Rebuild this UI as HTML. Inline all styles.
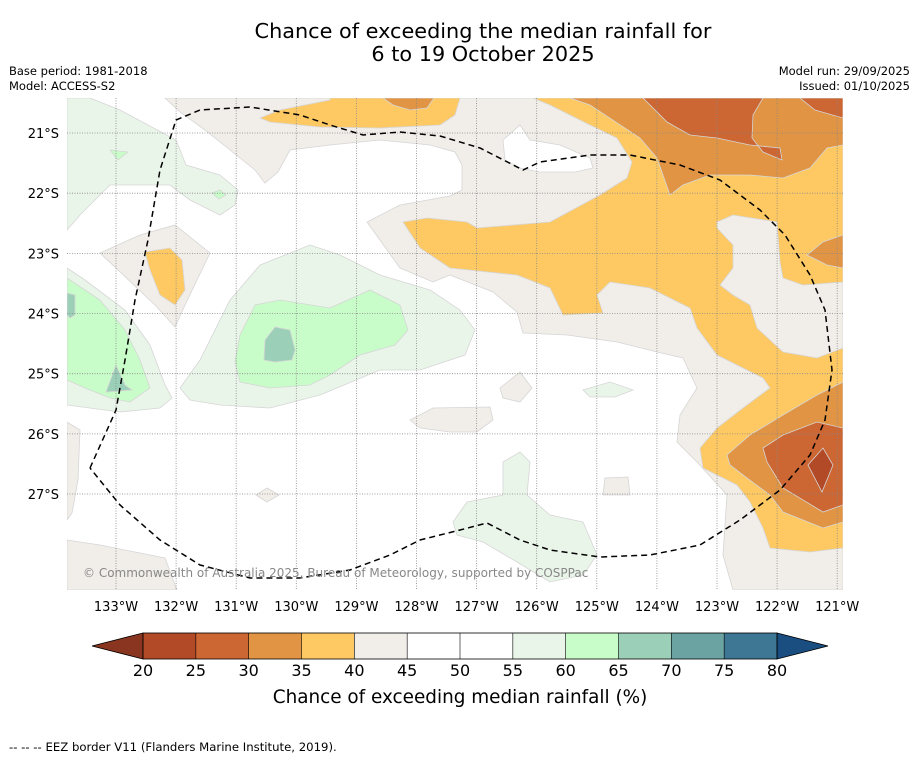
<!DOCTYPE html>
<html><head><meta charset="utf-8"><style>
body{margin:0;background:#fff;font-family:"DejaVu Sans","Liberation Sans",sans-serif;}
svg{display:block}
</style></head><body>
<svg id="c" width="919" height="758" viewBox="0 0 919 758" xmlns="http://www.w3.org/2000/svg" font-family="DejaVu Sans, Liberation Sans, sans-serif">
<text x="483" y="38" font-size="20.8" text-anchor="middle">Chance of exceeding the median rainfall for</text>
<text x="483" y="61" font-size="20.8" text-anchor="middle">6 to 19 October 2025</text>
<text x="9" y="75" font-size="11.5">Base period: 1981-2018</text>
<text x="9" y="90" font-size="11.5">Model: ACCESS-S2</text>
<text x="910" y="75" font-size="11.5" text-anchor="end">Model run: 29/09/2025</text>
<text x="910" y="90" font-size="11.5" text-anchor="end">Issued: 01/10/2025</text>
<defs><clipPath id="mc"><rect x="67" y="98" width="776" height="492"/></clipPath></defs>
<g clip-path="url(#mc)" stroke="#d6d6d6" stroke-width="0.8">
<rect x="67" y="98" width="776" height="492" fill="#fff" stroke="none"/>
<polygon fill="#f1ede8" points="165,98 843,98 843,590 733,590 723,555 727,495 697,462 677,442 680,415 697,388 683,358 657,352 617,342 567,335 523,333 517,312 493,292 450,275 433,282 400,268 367,222 400,205 450,196 462,190 462,165 455,152 430,145 380,140 330,145 290,150 278,172 265,183 255,170 230,150 205,130 180,112"/>
<polygon fill="#fff" points="503,140 520,125 530,140 560,145 590,158 593,168 575,172 540,172 520,168 505,160"/>
<polygon fill="#f1ede8" points="100,253 140,235 175,225 210,253 185,305 175,327 155,305"/>
<polygon fill="#f1ede8" points="500,388 520,372 532,388 520,402 503,398"/>
<polygon fill="#f1ede8" points="410,420 433,408 490,407 493,420 477,432 450,432 420,428"/>
<polygon fill="#f1ede8" points="605,478 628,477 630,495 603,495"/>
<polygon fill="#f1ede8" points="256,495 267,488 279,495 267,502"/>
<polygon fill="#f1ede8" points="67,422 80,430 78,480 72,513 67,520"/>
<polygon fill="#f1ede8" points="67,540 100,545 165,558 177,590 67,590"/>
<polygon fill="#fec963" points="533,98 843,98 843,548 810,552 770,548 763,528 750,502 737,485 703,468 700,448 717,428 743,408 770,388 763,378 743,368 717,355 697,328 690,308 650,288 610,282 597,295 603,313 563,315 550,288 517,275 450,268 420,248 403,222 427,218 467,222 477,228 550,222 600,195 627,178 632,162 617,138 590,125 550,105"/>
<polygon fill="#f1ede8" points="717,222 733,215 777,222 780,262 783,278 803,285 843,282 843,348 817,358 783,352 757,328 750,305 733,295 720,285 733,268 733,245 717,228"/>
<polygon fill="#fec963" points="260,118 280,110 330,100 330,98 460,98 455,115 440,125 380,128 320,127 270,122"/>
<polygon fill="#fec963" points="145,252 170,248 182,260 185,290 175,305 160,295 150,270"/>
<polygon fill="#e09444" points="570,98 843,98 843,145 827,148 810,168 783,178 750,175 710,175 683,185 670,195 657,158 640,138 590,105"/>
<polygon fill="#e09444" points="807,255 823,242 843,235 843,268 827,265"/>
<polygon fill="#e09444" points="727,455 750,435 783,415 817,395 843,382 843,522 823,528 783,512 770,495 747,478 730,465"/>
<polygon fill="#e09444" points="383,98 434,98 427,108 410,110 393,105"/>
<polygon fill="#cc6633" points="643,98 763,98 753,115 752,138 763,152 782,160 780,148 750,145 717,138 690,135 667,122"/>
<polygon fill="#cc6633" points="800,98 843,98 843,118 815,110"/>
<polygon fill="#cc6633" points="763,448 783,435 817,422 843,428 843,505 823,512 783,488 767,462"/>
<polygon fill="#b24a28" points="808,465 823,448 833,465 822,492"/>
<polygon fill="#eaf5ea" points="67,98 90,98 120,110 176,140 186,165 220,175 238,190 235,205 220,215 190,200 170,185 110,185 80,215 67,230"/>
<polygon fill="#eaf5ea" points="67,268 85,280 125,310 150,345 165,385 172,398 160,408 120,412 67,405"/>
<polygon fill="#eaf5ea" points="180,388 200,360 230,300 260,265 310,245 340,255 380,275 430,290 460,310 475,330 465,355 420,370 380,370 320,395 270,408 220,405 190,400"/>
<polygon fill="#eaf5ea" points="453,522 467,502 503,495 503,462 520,452 530,462 527,495 550,515 583,522 597,555 583,575 550,582 517,562 483,542 457,535"/>
<polygon fill="#eaf5ea" points="583,390 610,382 633,390 615,397 590,397"/>
<polygon fill="#c8fcc8" points="67,278 100,300 125,330 140,360 150,388 130,402 110,398 85,388 67,380"/>
<polygon fill="#c8fcc8" points="235,362 240,335 255,305 280,300 330,308 370,290 400,305 408,330 395,345 360,355 330,375 310,385 270,388 240,382"/>
<polygon fill="#c8fcc8" points="110,150 128,152 118,160"/>
<polygon fill="#c8fcc8" points="212,193 220,190 226,195 219,199"/>
<polygon fill="#9ccfb8" points="67,293 75,295 75,315 70,318 67,315"/>
<polygon fill="#9ccfb8" points="116,365 125,385 132,390 106,392"/>
<polygon fill="#9ccfb8" points="264,360 265,340 275,327 290,330 295,350 292,360 275,362"/>
<g id="grid" stroke="#888" stroke-width="0.8" stroke-dasharray="1,1.5" fill="none"></g>
<polyline fill="none" stroke="#000" stroke-width="1.5" stroke-dasharray="6,4" points="90,468 116,410 125,360 135,300 148,240 160,170 176,120 200,110 250,107 300,115 330,125 363,135 400,132 440,136 480,148 523,170 540,162 590,155 630,155 680,165 720,180 760,210 785,235 810,275 825,310 832,370 825,420 810,455 780,490 740,520 700,545 650,555 600,557 550,550 520,540 487,523 460,530 420,540 390,555 350,570 300,578 250,578 200,565 160,540 120,505 90,468"/>
<text x="83" y="577" font-size="12" fill="#888" stroke="none">© Commonwealth of Australia 2025, Bureau of Meteorology, supported by COSPPac</text>
</g>
<g id="ticks"></g>
<g id="cbar"></g>
<text x="460" y="703" font-size="18.4" text-anchor="middle">Chance of exceeding median rainfall (%)</text>
<text x="9" y="751" font-size="11.7">--  --  -- EEZ border V11 (Flanders Marine Institute, 2019).</text>
</svg>
<script>
const lonLabels=["133°W","132°W","131°W","130°W","129°W","128°W","127°W","126°W","125°W","124°W","123°W","122°W","121°W"];
const latLabels=["21°S","22°S","23°S","24°S","25°S","26°S","27°S"];
const cbarLevels=[20,25,30,35,40,45,50,55,60,65,70,75,80];
const cbarColors=["#b24a28","#cc6633","#e09444","#fec963","#f1ede8","#ffffff","#ffffff","#eaf5ea","#c8fcc8","#9ccfb8","#6ba3a3","#3d7794"];
const NS="http://www.w3.org/2000/svg";
const xLon=i=>116+i*60.1, yLat=i=>133+i*60.17;
const xC=v=>143+(v-20)*(634/60);
function mk(t,a,p){const e=document.createElementNS(NS,t);for(const k in a)e.setAttribute(k,a[k]);p.appendChild(e);return e;}
const grid=document.getElementById('grid'),ticks=document.getElementById('ticks'),cb=document.getElementById('cbar');
lonLabels.forEach((l,i)=>{const x=xLon(i);
 const g=mk('line',{x1:x,y1:98,x2:x,y2:590},grid);
 
 
 const t=mk('text',{x:x,y:611,'font-size':13,'text-anchor':'middle'},ticks);t.textContent=l;
 
 });
latLabels.forEach((l,i)=>{const y=yLat(i);
 const g=mk('line',{x1:67,y1:y,x2:843,y2:y},grid);
 
 
 const t=mk('text',{x:59,y:y+5,'font-size':13,'text-anchor':'end'},ticks);t.textContent=l;
 
 });
const y0=633,y1=659,ym=646;
const lo=mk('polygon',{points:`92,${ym} ${xC(20)},${y0} ${xC(20)},${y1}`,fill:'#8a3520',stroke:'#000','stroke-width':0.8},cb);


const hi=mk('polygon',{points:`828,${ym} ${xC(80)},${y0} ${xC(80)},${y1}`,fill:'#1a4d80',stroke:'#000','stroke-width':0.8},cb);


cbarColors.forEach((c,i)=>{const a=xC(cbarLevels[i]),b=xC(cbarLevels[i+1]);
 const r=mk('rect',{x:a,y:y0,width:b-a,height:y1-y0,fill:c},cb);
 
 });
const fr=mk('rect',{x:xC(20),y:y0,width:xC(80)-xC(20),height:y1-y0,fill:'none',stroke:'#000','stroke-width':0.8},cb);


cbarLevels.forEach(v=>{const x=xC(v);
 const l=mk('line',{x1:x,y1:y0,x2:x,y2:y1,stroke:'#000','stroke-width':0.6},cb);
 
 
 const t=mk('text',{x:x,y:676,'font-size':16,'text-anchor':'middle'},cb);t.textContent=v;
 
 });
</script>
</body></html>
